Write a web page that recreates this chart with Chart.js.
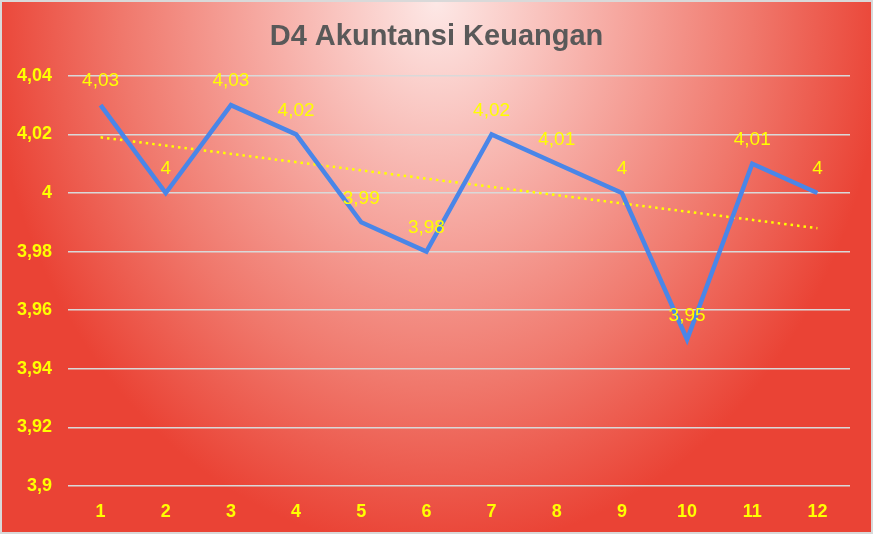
<!DOCTYPE html>
<html>
<head>
<meta charset="utf-8">
<script src="https://cdn.jsdelivr.net/npm/chart.js@4.4.1/dist/chart.umd.min.js"></script>
<style>
    html, body { margin: 0; padding: 0; background: #ffffff; }
    #wrap { width: 869px; height: 530px; border: 2px solid #d9d9d9; }
    canvas { display: block; }
</style>
</head>
<body>
<div id="wrap"><canvas id="chart" width="869" height="530"></canvas></div>
<script>
    // Data dari grafik
    const categories = ['1', '2', '3', '4', '5', '6', '7', '8', '9', '10', '11', '12'];
    const ipkValues = [4.03, 4, 4.03, 4.02, 3.99, 3.98, 4.02, 4.01, 4, 3.95, 4.01, 4];
    // Garis tren (titik awal dan akhir)
    const trendValues = [4.019, null, null, null, null, null, null, null, null, null, null, 3.988];
    const yTicks = [3.9, 3.92, 3.94, 3.96, 3.98, 4, 4.02, 4.04];

    const fmt = (v) => Number(v.toFixed(2)).toString().replace('.', ',');
    const fontFamily = '"Liberation Sans", Arial, sans-serif';

    // Latar belakang gradien radial
    const bgPlugin = {
        id: 'bgGradient',
        beforeDraw(chart) {
            const ctx = chart.ctx;
            const w = chart.width, h = chart.height;
            ctx.save();
            ctx.translate(w / 2, 0);
            ctx.scale(1, 1.22);
            const g = ctx.createRadialGradient(0, 0, 0, 0, 0, 450);
            g.addColorStop(0, '#fde8e6');
            g.addColorStop(0.35, '#f7b0a9');
            g.addColorStop(0.7, '#f0786c');
            g.addColorStop(1, '#ea4335');
            ctx.fillStyle = g;
            ctx.fillRect(-w, 0, w * 2, h);
            ctx.restore();
        }
    };

    // Label nilai di atas titik
    const labelPlugin = {
        id: 'valueLabels',
        afterDatasetsDraw(chart) {
            const ctx = chart.ctx;
            const meta = chart.getDatasetMeta(0);
            ctx.save();
            ctx.font = '19px ' + fontFamily;
            ctx.fillStyle = '#ffff00';
            ctx.textAlign = 'center';
            ctx.textBaseline = 'middle';
            meta.data.forEach((pt, i) => {
                ctx.fillText(fmt(ipkValues[i]), pt.x, pt.y - 24);
            });
            ctx.restore();
        }
    };

    new Chart(document.getElementById('chart'), {
        type: 'line',
        data: {
            labels: categories,
            datasets: [{
                data: ipkValues,
                borderColor: '#4a86e8',
                borderWidth: 4.5,
                pointRadius: 0,
                tension: 0,
                borderJoinStyle: 'miter'
            }, {
                data: trendValues,
                spanGaps: true,
                borderColor: '#ffff00',
                borderWidth: 2.5,
                borderDash: [2.5, 4],
                pointRadius: 0,
                tension: 0
            }]
        },
        options: {
            responsive: false,
            animation: false,
            layout: { padding: 0 },
            plugins: {
                legend: { display: false },
                tooltip: { enabled: false },
                title: {
                    display: true,
                    text: 'D4 Akuntansi Keuangan',
                    color: '#595959',
                    font: { family: fontFamily, size: 29, weight: 'bold' },
                    padding: { top: 18, bottom: 21 }
                }
            },
            scales: {
                x: {
                    offset: true,
                    grid: { display: false, drawTicks: false },
                    border: { display: false },
                    ticks: {
                        color: '#ffff00',
                        padding: 15,
                        font: { family: fontFamily, size: 18, weight: 'bold' }
                    },
                    afterFit(scale) { scale.height = 46; }
                },
                y: {
                    min: 3.9,
                    max: 4.04,
                    afterBuildTicks(scale) { scale.ticks = yTicks.map(v => ({ value: v })); },
                    grid: { color: '#d9d9d9', lineWidth: 1.5, drawTicks: false },
                    border: { display: false },
                    ticks: {
                        color: '#ffff00',
                        padding: 16,
                        font: { family: fontFamily, size: 18, weight: 'bold' },
                        callback: (v) => fmt(v)
                    },
                    afterFit(scale) { scale.width = 66; }
                },
                // sumbu kosong di kanan, hanya untuk jarak
                yRight: {
                    position: 'right',
                    grid: { display: false, drawTicks: false },
                    border: { display: false },
                    ticks: { display: false },
                    afterFit(scale) { scale.width = 21; }
                }
            }
        },
        plugins: [bgPlugin, labelPlugin]
    });
</script>
</body>
</html>
